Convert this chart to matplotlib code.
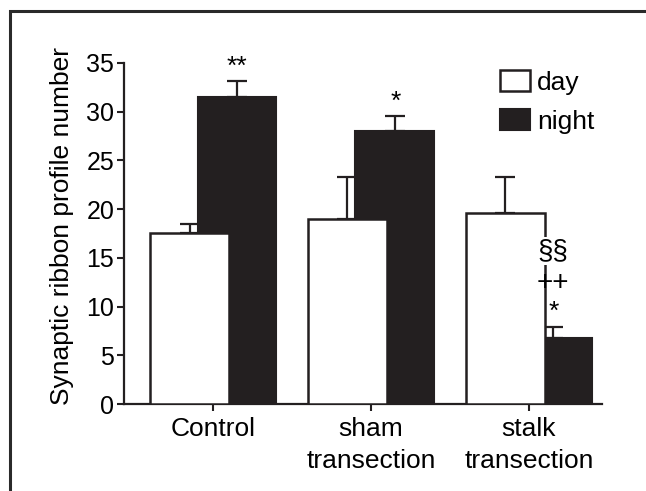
import matplotlib
matplotlib.use("Agg")
import matplotlib.pyplot as plt
from matplotlib.patches import Patch

plt.rcParams['font.family'] = ['Liberation Sans', 'DejaVu Sans']

groups = ['Control', 'sham\ntransection', 'stalk\ntransection']
day = [17.5, 19.0, 19.6]
day_err = [1.0, 4.3, 3.7]
night = [31.5, 28.0, 6.8]
night_err = [1.6, 1.5, 1.1]
yticks = [0, 5, 10, 15, 20, 25, 30, 35]

ink = '#231f20'
off = 0.15
w = 0.5
x = list(range(len(groups)))

fig = plt.figure(figsize=(6.46, 4.91), dpi=100)

# outer frame, cropped at the right and bottom of the picture
bg = fig.add_axes([0, 0, 1, 1], zorder=-1)
bg.set_xlim(0, 646)
bg.set_ylim(491, 0)
bg.axis('off')
bg.plot([9.5, 9.5, 646], [491, 10.5, 10.5], color='#2a2a2a', linewidth=2.2,
        solid_joinstyle='miter')

ax = fig.add_axes([0.192, 0.177, 0.740, 0.695])

xd = [i - off for i in x]
xn = [i + off for i in x]

# day error bars sit behind the night bars, day bars in front of night bars
ax.errorbar(xd, day, yerr=[[0] * 3, day_err], fmt='none', ecolor=ink,
            elinewidth=1.6, capsize=7, capthick=1.6, zorder=1)
ax.bar(xn, night, w, color=ink, edgecolor=ink, linewidth=1.5, zorder=2)
ax.errorbar(xn, night, yerr=[[0] * 3, night_err], fmt='none', ecolor=ink,
            elinewidth=1.6, capsize=7, capthick=1.6, zorder=2)
ax.bar(xd, day, w, color='white', edgecolor=ink, linewidth=1.8, zorder=3)

# significance marks
ax.text(0.15, 34.6, '**', ha='center', va='center', fontsize=19, zorder=5)
ax.text(1.156, 31.0, '*', ha='center', va='center', fontsize=19, zorder=5)
ax.text(2.15, 15.7, '§§', ha='center', va='center', fontsize=20, zorder=5,
        bbox=dict(facecolor='white', edgecolor='none', pad=0.5))
ax.text(2.15, 12.4, '++', ha='center', va='center', fontsize=20, zorder=5)
ax.text(2.16, 9.5, '*', ha='center', va='center', fontsize=19, zorder=5)

ax.set_xlim(-0.566, 2.464)
ax.set_ylim(0, 35)
ax.set_yticks(yticks)
ax.set_xticks(x)
ax.set_xticklabels(groups, fontsize=19, linespacing=1.45)
ax.tick_params(axis='y', labelsize=18, length=5, width=1.5, pad=2, color=ink)
ax.tick_params(axis='x', length=5, width=1.5, pad=4, color=ink)
for s in ['top', 'right']:
    ax.spines[s].set_visible(False)
for s in ['left', 'bottom']:
    ax.spines[s].set_linewidth(1.6)
    ax.spines[s].set_color(ink)
ax.spines['left'].set_bounds(0, 35)

fig.text(62 / 646, 1 - 226 / 491, 'Synaptic ribbon profile number', rotation=90,
         ha='center', va='center', fontsize=19)

handles = [Patch(facecolor='white', edgecolor=ink, linewidth=1.8, label='day'),
           Patch(facecolor=ink, edgecolor=ink, linewidth=1.5, label='night')]
ax.legend(handles=handles, loc='upper left', bbox_to_anchor=(500 / 646, 1 - 70 / 491),
          bbox_transform=fig.transFigure, frameon=False, fontsize=19, borderpad=0,
          borderaxespad=0, handlelength=1.15, handleheight=0.85, handletextpad=0.25,
          labelspacing=0.55)

fig.savefig('out.png', dpi=100)
